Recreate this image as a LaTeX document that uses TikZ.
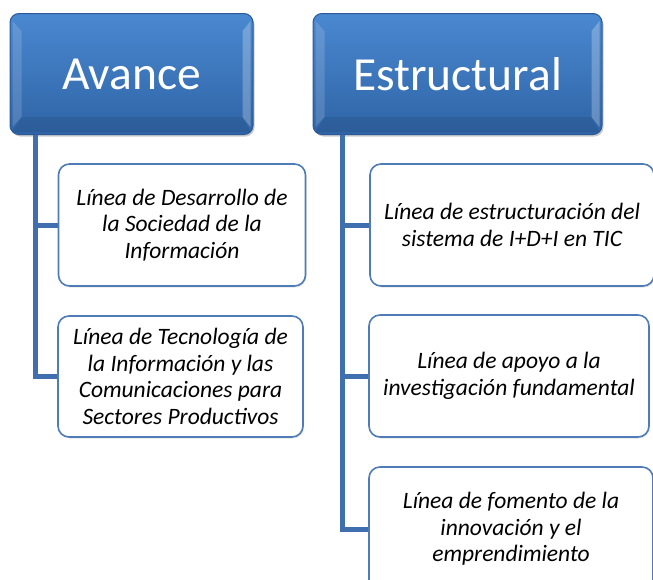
\documentclass[tikz,border=0pt]{standalone}
\usepackage{fontspec}
\setmainfont{Carlito}
\usetikzlibrary{shadows}
\definecolor{hdtop}{HTML}{4A88D0}
\definecolor{hdbot}{HTML}{2F64A6}
\definecolor{hdborder}{HTML}{2A5A98}
\definecolor{linkc}{HTML}{3F6FAE}
\definecolor{boxborder}{HTML}{4F7CB6}
\tikzset{
  header/.style={draw=hdborder, line width=1pt, rounded corners=9pt, top color=hdtop, bottom color=hdbot,
    inner sep=0pt,
    drop shadow={shadow xshift=1.5pt, shadow yshift=-2pt, fill=black!40}},
  headtext/.style={text=white, font=\fontsize{47.5}{50}\selectfont},
  child/.style={draw=boxborder, line width=1.6pt, rounded corners=11pt, fill=white,
    align=center, font=\fontsize{23.5}{26.5}\selectfont\itshape, inner sep=0pt,
    drop shadow={shadow xshift=1pt, shadow yshift=-1.5pt, fill=black!20}},
  link/.style={draw=linkc, line width=5pt}
}
\begin{document}
\begin{tikzpicture}[x=1pt,y=-1pt]
\useasboundingbox (0,0) rectangle (653,579);
\clip (0,0) rectangle (653,579);
% headers
\node[header, minimum width=243pt, minimum height=121pt] (A) at (131.5,74) {};
\node[headtext] (At) at (A.center) {Avance};
\node[header, minimum width=289pt, minimum height=121pt] (E) at (457.5,74) {};
\node[headtext] (Et) at (E.center) {Estructural};
% bevel highlights
\foreach \n in {A,E}{
  \fill[white, opacity=0.15] ([xshift=3pt,yshift=-8pt]\n.north west) -- ([xshift=12pt,yshift=-18pt]\n.north west) -- ([xshift=12pt,yshift=18pt]\n.south west) -- ([xshift=3pt,yshift=8pt]\n.south west) -- cycle;
  \fill[white, opacity=0.25] ([xshift=-3pt,yshift=-8pt]\n.north east) -- ([xshift=-11pt,yshift=-18pt]\n.north east) -- ([xshift=-11pt,yshift=18pt]\n.south east) -- ([xshift=-3pt,yshift=8pt]\n.south east) -- cycle;
  \fill[black, opacity=0.08] ([xshift=12pt,yshift=18pt]\n.south west) -- ([xshift=-11pt,yshift=18pt]\n.south east) -- ([xshift=-3pt,yshift=3pt]\n.south east) -- ([xshift=3pt,yshift=3pt]\n.south west) -- cycle;
}
% connector start points
\coordinate (a0) at (35,135);
\coordinate (e0) at (342,135);
% child boxes
\node[child, minimum width=247pt, minimum height=122pt] (c1) at (182,225)
  {Línea de Desarrollo de\\la Sociedad de la\\Información};
\node[child, minimum width=245pt, minimum height=121pt] (c2) at (180.5,376.5)
  {Línea de Tecnología de\\la Información y las\\Comunicaciones para\\Sectores Productivos};
\node[child, minimum width=284pt, minimum height=122pt] (d1) at (512,225)
  {Línea de estructuración del\\sistema de I+D+I en TIC};
\node[child, minimum width=280pt, minimum height=122pt] (d2) at (509,376)
  {Línea de apoyo a la\\investigación fundamental};
\node[child, minimum width=284pt, minimum height=124pt] (d3) at (511,529)
  {Línea de fomento de la\\innovación y el\\emprendimiento};
% connectors
\draw[link] (a0) |- (c1.west);
\draw[link] (a0) |- (c2.west);
\draw[link] (e0) |- (d1.west);
\draw[link] (e0) |- (d2.west);
\draw[link] (e0) |- (d3.west);
\end{tikzpicture}
\end{document}
